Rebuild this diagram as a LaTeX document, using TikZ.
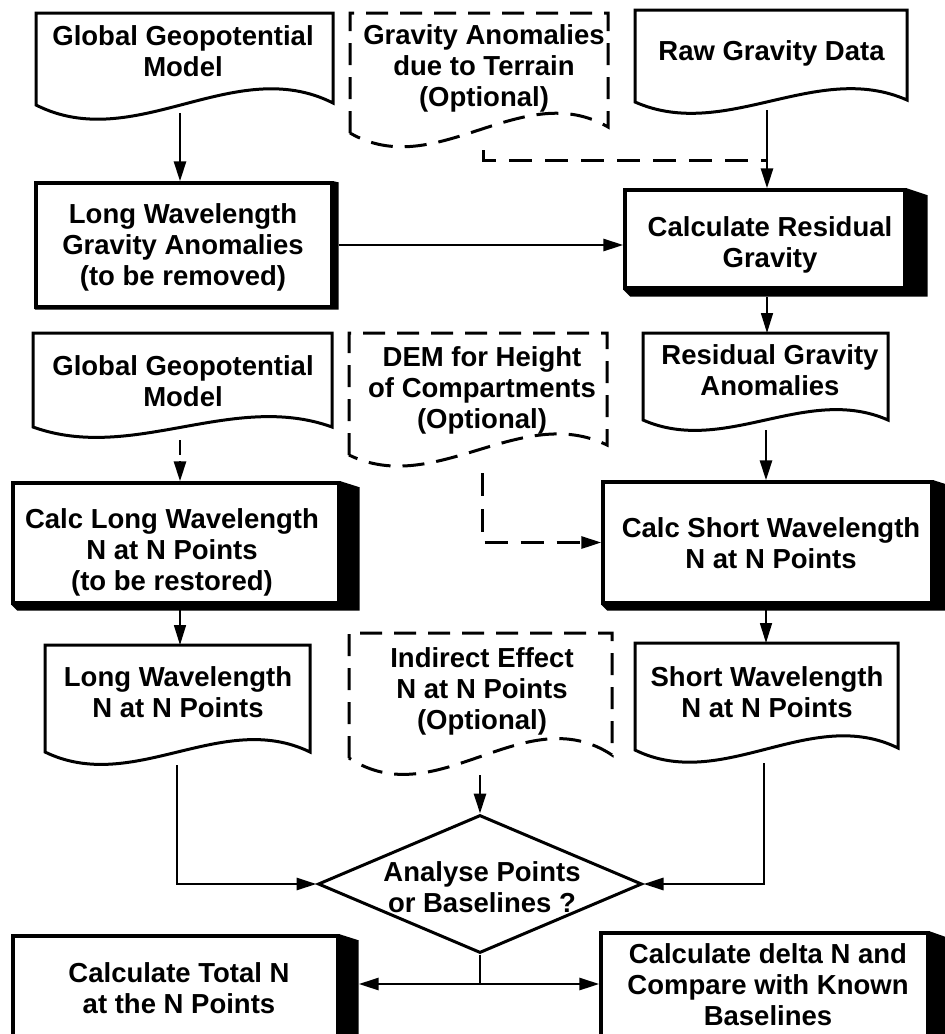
\documentclass[tikz,border=0pt]{standalone}
\usepackage{fontspec}
\setmainfont{Liberation Sans}
\usetikzlibrary{arrows.meta,shapes.geometric}

% Document symbol with a wavy lower edge:
% #1 style, #2 left, #3 top, #4 right, #5 left end of wave, #6 right end of wave, #7 wave depth
\newcommand\wavydoc[7]{%
  \pgfmathsetmacro\wavethird{(#4-#2)/3}%
  \draw[#1] (#2,#5) -- (#2,#3) -- (#4,#3) -- (#4,#6)
    .. controls ({#4-\wavethird},{#6-#7}) and ({#2+\wavethird},{#5+#7}) .. (#2,#5) -- cycle;
}
% Solid 3D side of a process box: #1 node, #2 depth to the right, #3 depth downwards
\newcommand\boxside[3]{%
  \fill (#1.north east) -- ([shift={(#2,#3)}]#1.north east) -- ([shift={(#2,#3)}]#1.south east)
    -- ([shift={(#3,#3)}]#1.south west) -- (#1.south west) -- (#1.south east) -- cycle;
}

\begin{document}
\begin{tikzpicture}[x=1pt,y=-1pt,
  lbl/.style={align=center, inner sep=0pt, font=\fontsize{27.5pt}{31pt}\selectfont\bfseries},
  procbox/.style={draw, line width=3.4pt, fill=white, rectangle, inner sep=0pt},
  docline/.style={draw, line width=3pt, fill=white, line join=miter},
  optline/.style={docline, dash pattern=on 22pt off 12pt},
  conn/.style={line width=2.9pt},
  thinconn/.style={line width=1.6pt},
  optconn/.style={line width=3pt, dash pattern=on 23pt off 13pt},
  tip/.style={-{Triangle[length=20pt,width=12pt]}},
  decision/.style={draw, diamond, line width=3pt, inner sep=0pt, fill=white,
    minimum width=324pt, minimum height=138pt}
]
\fill[white] (0,0) rectangle (945,1034);
\clip (0,0) rectangle (945,1034);

% ---------- document symbols ----------
\wavydoc{docline}{36}{13}{333}{105}{103}{50}
\wavydoc{optline}{350}{13}{608}{133}{127}{50}
\wavydoc{docline}{635}{10}{907}{102}{100}{40}
\wavydoc{docline}{33}{333}{332}{427}{427}{36}
\wavydoc{optline}{349}{333}{607}{455}{445}{42}
\wavydoc{docline}{643}{333}{888}{420}{420}{36}
\wavydoc{docline}{45}{645}{310}{752}{752}{43}
\wavydoc{optline}{349}{633}{612}{758}{755}{58}
\wavydoc{docline}{635}{643}{898}{750}{748}{43}

\node[lbl] (gg1) at (183,51.5) {Global Geopotential\\Model};
\node[lbl] (gat) at (484,68) {Gravity Anomalies\\due to Terrain\\(Optional)};
\node[lbl] (raw) at (771.5,53) {Raw Gravity Data};
\node[lbl] (gg2) at (183,381.5) {Global Geopotential\\Model};
\node[lbl] (dem) at (482,390.4) {DEM for Height\\of Compartments\\(Optional)};
\node[lbl] (rga) at (770,370) {Residual Gravity\\Anomalies};
\node[lbl] (lwn) at (178,692) {Long Wavelength\\N at N Points};
\node[lbl] (ie) at (482,691) {Indirect Effect\\N at N Points\\(Optional)};
\node[lbl] (swn) at (767,692) {Short Wavelength\\N at N Points};

% attachment points on the document symbols
\coordinate (gg1-out) at (180,113);
\coordinate (gat-out) at (483,150);
\coordinate (gat-join) at (767,160);
\coordinate (raw-out) at (767,110);
\coordinate (gg2-out) at (180,440);
\coordinate (dem-out) at (482,473);
\coordinate (rga-in) at (767,333);
\coordinate (rga-out) at (766,430);
\coordinate (lwn-in) at (180,645);
\coordinate (lwn-out) at (177,765);
\coordinate (ie-out) at (480,775);
\coordinate (swn-in) at (766,643);
\coordinate (swn-out) at (764,763);

% ---------- process boxes ----------
\node[procbox, minimum width=296pt, minimum height=124pt] (lwg) at (184,245) {};
\boxside{lwg}{5}{1}
\node[procbox, minimum width=280pt, minimum height=98pt] (crg) at (765,239) {};
\boxside{crg}{21}{7}
\node[procbox, minimum width=326pt, minimum height=120pt] (clw) at (176,543) {};
\boxside{clw}{19}{6}
\node[procbox, minimum width=329pt, minimum height=121pt] (csw) at (767.5,542.5) {};
\boxside{csw}{19}{6}
\node[procbox, minimum width=325pt, minimum height=114pt] (ctn) at (175.5,993) {};
\boxside{ctn}{19}{6}
\node[procbox, minimum width=327pt, minimum height=117pt] (cdn) at (764.5,991.5) {};
\boxside{cdn}{17}{6}

\node[lbl] (lwg-t) at (183,247) {Long Wavelength\\Gravity Anomalies\\(to be removed)};
\node[lbl] (crg-t) at (770,244.4) {Calculate Residual\\Gravity};
\node[lbl] (clw-t) at (172,552) {Calc Long Wavelength\\N at N Points\\(to be restored)};
\node[lbl] (csw-t) at (771,543.5) {Calc Short Wavelength\\N at N Points};
\node[lbl] (ctn-t) at (179,988.5) {Calculate Total N\\at the N Points};
\node[lbl] (cdn-t) at (768,985) {Calculate delta N and\\Compare with Known\\Baselines};

% ---------- decision ----------
\node[decision] (dec) at (480,884) {};
\node[lbl] (dec-t) at (482,887.5) {Analyse Points\\or Baselines ?};

\coordinate (crg-out) at (767,297);
\coordinate (clw-out) at (180,609);
\coordinate (csw-out) at (766,609);
\coordinate (split) at (480,984);
\coordinate (ctn-edge) at ([xshift=19pt]ctn.east);

% ---------- connectors ----------
\draw[conn,tip] (gg1-out) -- (gg1-out |- lwg.north);
\draw[conn,tip] ([xshift=5pt]lwg.east) -- (lwg.east -| crg.west);
\draw[conn,tip] (raw-out) -- (raw-out |- crg.north);
\draw[optconn] (gat-out) |- (gat-join);
\draw[thinconn,tip] (crg-out) -- (rga-in);
\draw[conn,tip] (rga-out) -- (rga-out |- csw.north);
\draw[conn,tip,dash pattern=on 15pt off 6pt] (gg2-out) -- (gg2-out |- clw.north);
\draw[optconn,tip] (dem-out) |- (csw.west);
\draw[thinconn,tip] (clw-out) -- (lwn-in);
\draw[thinconn,tip] (csw-out) -- (swn-in);
\draw[conn,tip] (lwn-out) |- (dec.west);
\draw[conn,tip] (swn-out) |- (dec.east);
\draw[conn,tip] (ie-out) -- (dec.north);
\draw[conn] (dec.south) -- (split);
\draw[conn,tip] (split) -- (split -| ctn-edge);
\draw[conn,tip] (split) -- (split -| cdn.west);
\end{tikzpicture}
\end{document}
